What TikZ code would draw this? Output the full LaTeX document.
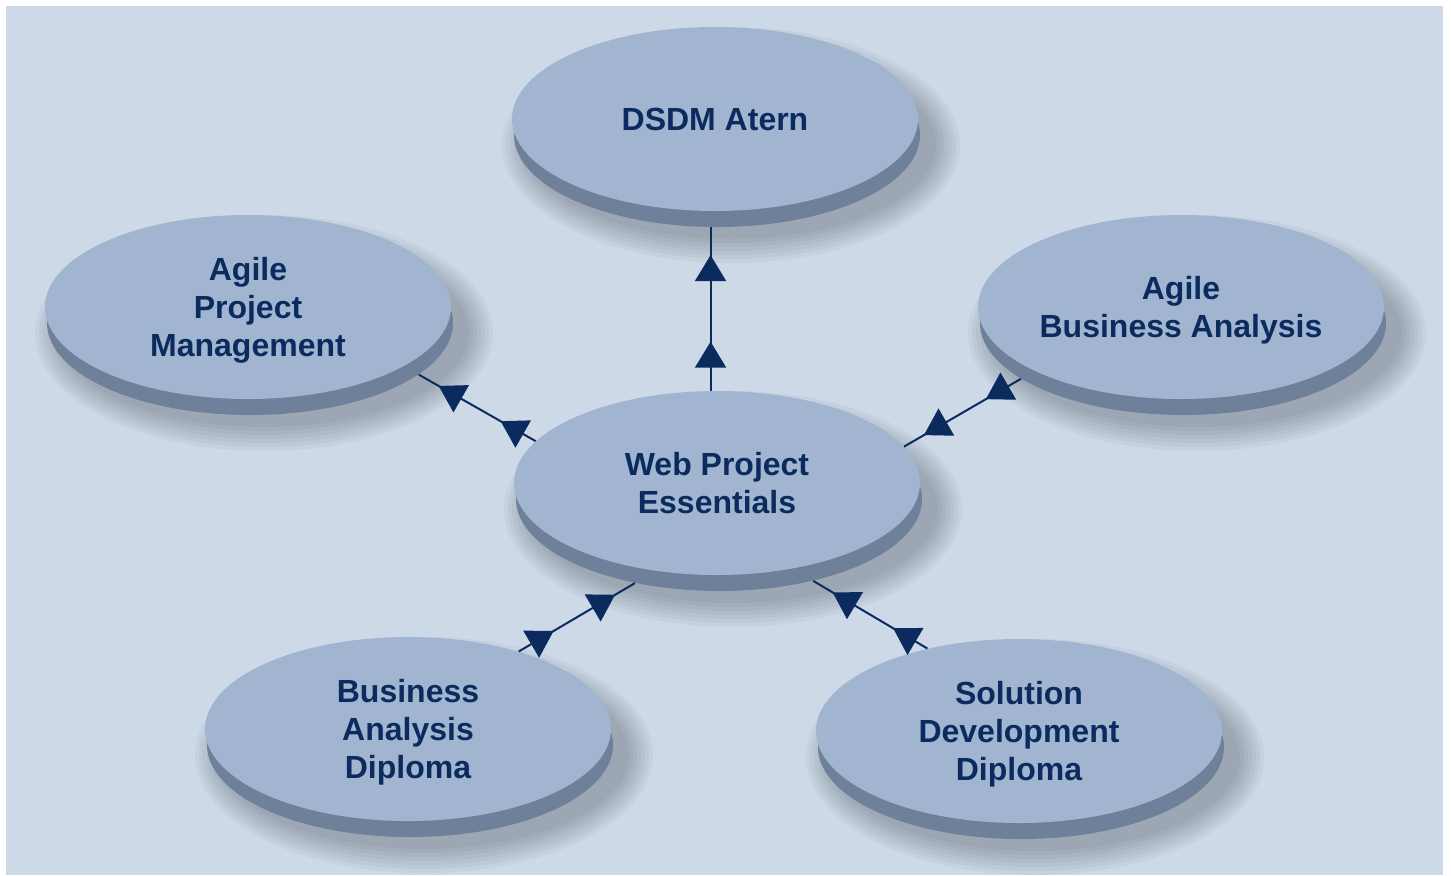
\documentclass[tikz,border=0pt]{standalone}
\usepackage{fontspec}
\setmainfont{Liberation Sans}
\usetikzlibrary{shapes.geometric,arrows.meta,decorations.markings}
\definecolor{bgblue}{HTML}{CDD9E7}
\definecolor{discface}{HTML}{A1B5D0}
\definecolor{sidegray}{HTML}{6F809A}
\definecolor{navy}{HTML}{0B2B5E}

\begin{document}
\begin{tikzpicture}[x=0.5pt,y=-0.5pt,
  disc/.style={ellipse,fill=discface,minimum width=203pt,minimum height=92pt,inner sep=0pt,
    text=navy,align=center,text depth=0pt,font=\bfseries\fontsize{16}{19}\selectfont},
  discbase/.style={ellipse,fill=sidegray,minimum width=203pt,minimum height=92pt,inner sep=0pt},
  haze/.style={fill=black!80!sidegray,opacity=0.04},
  link/.style={navy,line width=1pt,postaction={decorate},
    decoration={markings,
      mark=at position 0.3 with {\arrow{Triangle[width=15.5pt,length=13pt]}},
      mark=at position 0.83 with {\arrow{Triangle[width=15.5pt,length=13pt]}}}}]
  \useasboundingbox (0,0) rectangle (1451,875);
  \fill[bgblue] (6,6) rectangle (1443,875);

  \foreach \cx/\cy in {717/135,250/323,1183/323,719/499,410/745,1021/747}
    \foreach \g in {26,22,...,2}
      \fill[haze] (\cx+14,\cy+10) ellipse ({(203+\g)*0.5pt} and {(92+\g)*0.5pt});

  \node[discbase] (dsdm-side) at (717,135) {};
  \node[discbase] (apm-side)  at (250,323) {};
  \node[discbase] (aba-side)  at (1183,323) {};
  \node[discbase] (web-side)  at (719,499) {};
  \node[discbase] (bad-side)  at (410,745) {};
  \node[discbase] (sdd-side)  at (1021,747) {};

  \node[disc] (dsdm) at (715,119) {DSDM Atern};
  \node[disc] (apm)  at (248,307) {Agile\\Project\\Management};
  \node[disc] (aba)  at (1181,307) {Agile\\Business Analysis};
  \node[disc] (web)  at (717,483) {Web Project\\Essentials};
  \node[disc] (bad)  at (408,729) {Business\\Analysis\\Diploma};
  \node[disc] (sdd)  at (1019,731) {Solution\\Development\\Diploma};

  \draw[link] (web.94) -- (dsdm-side.266);
  \draw[link] (web.167) -- (apm-side.-17);
  \draw[link] (aba-side.199) -- (web.11);
  \draw[link] (bad.35) -- (web-side.225);
  \draw[link] (sdd.138) -- (web-side.-41);
\end{tikzpicture}
\end{document}
